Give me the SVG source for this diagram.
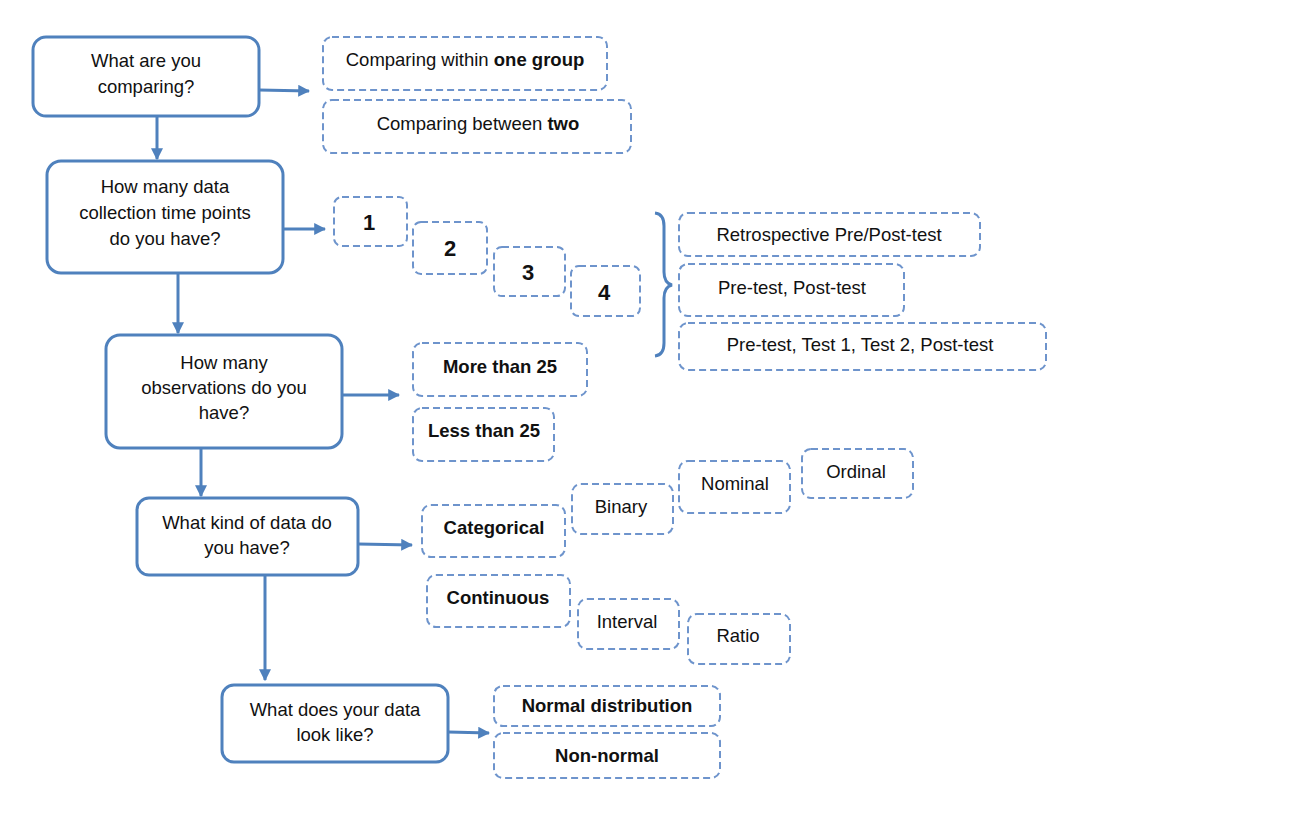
<svg xmlns="http://www.w3.org/2000/svg" width="1292" height="825" viewBox="0 0 1292 825">
<style>
.q{fill:#fff;stroke:#4F81BD;stroke-width:3}
.o{fill:#fff;stroke:#6E94CC;stroke-width:2;stroke-dasharray:7,4}
text{font-family:"Liberation Sans",Arial,sans-serif;font-size:18.5px;fill:#111;text-anchor:middle}
.b{font-weight:bold}
.n{font-weight:bold;font-size:22px}
.c{fill:none;stroke:#4F81BD;stroke-width:3}
</style>
<defs>
<marker id="ah" viewBox="0 0 10 10" refX="9" refY="5" markerWidth="4" markerHeight="4" markerUnits="strokeWidth" orient="auto">
<path d="M0,0 L10,5 L0,10 z" fill="#4F81BD"/>
</marker>
</defs>
<rect width="1292" height="825" fill="#fff"/>
<g id="connectors">
<line class="c" x1="259" y1="90" x2="309" y2="91" marker-end="url(#ah)"/>
<line class="c" x1="157" y1="116" x2="157" y2="159" marker-end="url(#ah)"/>
<line class="c" x1="283" y1="229" x2="325" y2="229" marker-end="url(#ah)"/>
<line class="c" x1="178" y1="273" x2="178" y2="333" marker-end="url(#ah)"/>
<line class="c" x1="342" y1="395" x2="399" y2="395" marker-end="url(#ah)"/>
<line class="c" x1="201" y1="448" x2="201" y2="496" marker-end="url(#ah)"/>
<line class="c" x1="358" y1="544" x2="412" y2="545" marker-end="url(#ah)"/>
<line class="c" x1="265" y1="575" x2="265" y2="680" marker-end="url(#ah)"/>
<line class="c" x1="448" y1="732" x2="489" y2="733" marker-end="url(#ah)"/>
<path class="c" d="M655,213 Q664,214 664,226 L664,272 Q664,283 672,285 Q664,287 664,298 L664,343 Q664,355 655,356"/>
</g>
<g id="q1"><rect class="q" x="33" y="37" width="226" height="79" rx="13"/><text x="146" y="67">What are you</text><text x="146" y="93">comparing?</text></g>
<g id="q2"><rect class="q" x="47" y="161" width="236" height="112" rx="14"/><text x="165" y="193">How many data</text><text x="165" y="219">collection time points</text><text x="165" y="245">do you have?</text></g>
<g id="q3"><rect class="q" x="106" y="335" width="236" height="113" rx="14"/><text x="224" y="369">How many</text><text x="224" y="394">observations do you</text><text x="224" y="419">have?</text></g>
<g id="q4"><rect class="q" x="137" y="498" width="221" height="77" rx="12"/><text x="247" y="529">What kind of data do</text><text x="247" y="554">you have?</text></g>
<g id="q5"><rect class="q" x="222" y="685" width="226" height="77" rx="12"/><text x="335" y="716">What does your data</text><text x="335" y="741">look like?</text></g>
<g id="o1"><rect class="o" x="323" y="37" width="284" height="53" rx="9"/><text x="465" y="66">Comparing within <tspan class="b">one group</tspan></text></g>
<g id="o2"><rect class="o" x="323" y="100" width="308" height="53" rx="9"/><text x="478" y="130">Comparing between <tspan class="b">two</tspan></text></g>
<g id="t1"><rect class="o" x="334" y="197" width="73" height="49" rx="8"/><text class="n" x="369" y="230">1</text></g>
<g id="t2"><rect class="o" x="413" y="222" width="74" height="52" rx="8"/><text class="n" x="450" y="256">2</text></g>
<g id="t3"><rect class="o" x="494" y="247" width="71" height="49" rx="8"/><text class="n" x="528" y="280">3</text></g>
<g id="t4"><rect class="o" x="571" y="266" width="69" height="50" rx="8"/><text class="n" x="604" y="300">4</text></g>
<g id="d1"><rect class="o" x="679" y="213" width="301" height="43" rx="9"/><text x="829" y="241">Retrospective Pre/Post-test</text></g>
<g id="d2"><rect class="o" x="679" y="264" width="225" height="52" rx="9"/><text x="792" y="294">Pre-test, Post-test</text></g>
<g id="d3"><rect class="o" x="679" y="323" width="367" height="47" rx="9"/><text x="860" y="351">Pre-test, Test 1, Test 2, Post-test</text></g>
<g id="m25"><rect class="o" x="413" y="343" width="174" height="53" rx="9"/><text class="b" x="500" y="373">More than 25</text></g>
<g id="l25"><rect class="o" x="413" y="408" width="141" height="53" rx="9"/><text class="b" x="484" y="437">Less than 25</text></g>
<g id="cat"><rect class="o" x="422" y="505" width="143" height="52" rx="9"/><text class="b" x="494" y="534">Categorical</text></g>
<g id="bin"><rect class="o" x="572" y="484" width="101" height="50" rx="9"/><text x="621" y="513">Binary</text></g>
<g id="nom"><rect class="o" x="679" y="461" width="111" height="52" rx="9"/><text x="735" y="490">Nominal</text></g>
<g id="ord"><rect class="o" x="802" y="449" width="111" height="49" rx="9"/><text x="856" y="478">Ordinal</text></g>
<g id="con"><rect class="o" x="427" y="575" width="143" height="52" rx="9"/><text class="b" x="498" y="604">Continuous</text></g>
<g id="int"><rect class="o" x="578" y="599" width="101" height="50" rx="9"/><text x="627" y="628">Interval</text></g>
<g id="rat"><rect class="o" x="688" y="614" width="102" height="50" rx="9"/><text x="738" y="642">Ratio</text></g>
<g id="nd"><rect class="o" x="494" y="686" width="226" height="40" rx="9"/><text class="b" x="607" y="712">Normal distribution</text></g>
<g id="nn"><rect class="o" x="494" y="733" width="226" height="45" rx="9"/><text class="b" x="607" y="762">Non-normal</text></g>
</svg>
